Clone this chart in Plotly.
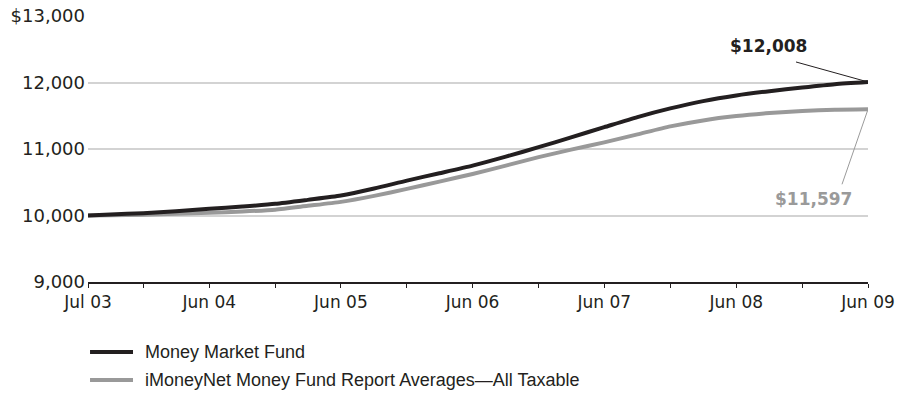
import plotly.graph_objects as go

# Quarter-end observation dates, Jul 2003 through Jun 2009
dates = [
    "2003-07-01", "2003-09-01", "2003-12-01", "2004-03-01", "2004-06-01",
    "2004-09-01", "2004-12-01", "2005-03-01", "2005-06-01", "2005-09-01",
    "2005-12-01", "2006-03-01", "2006-06-01", "2006-09-01", "2006-12-01",
    "2007-03-01", "2007-06-01", "2007-09-01", "2007-12-01", "2008-03-01",
    "2008-06-01", "2008-09-01", "2008-12-01", "2009-03-01", "2009-06-01",
]

# Growth of a $10,000 investment
money_market_fund = [
    10000, 10015, 10035, 10065, 10100,
    10135, 10175, 10235, 10300, 10405,
    10525, 10635, 10750, 10885, 11027,
    11175, 11328, 11480, 11610, 11720,
    11805, 11870, 11925, 11975, 12008,
]
imoneynet_average = [
    10000, 10005, 10012, 10025, 10040,
    10060, 10088, 10145, 10205, 10295,
    10400, 10510, 10625, 10750, 10877,
    10990, 11100, 11220, 11340, 11430,
    11495, 11540, 11570, 11590, 11597,
]

series_names = [
    "Money Market Fund",
    "iMoneyNet Money Fund Report Averages\u2014All Taxable",
]

x_tick_vals = [
    "2003-07-01", "2003-12-01", "2004-06-01", "2004-12-01", "2005-06-01",
    "2005-12-01", "2006-06-01", "2006-12-01", "2007-06-01", "2007-12-01",
    "2008-06-01", "2008-12-01", "2009-06-01",
]
x_tick_text = [
    "Jul 03", "", "Jun 04", "", "Jun 05", "", "Jun 06", "", "Jun 07", "",
    "Jun 08", "", "Jun 09",
]
y_tick_vals = [9000, 10000, 11000, 12000, 13000]
y_tick_text = ["9,000", "10,000", "11,000", "12,000", "$13,000"]

DARK = "#231f20"
GRAY = "#999999"
colors = [DARK, GRAY]

fig = go.Figure()
for values, name, color in [
    (imoneynet_average, series_names[1], GRAY),
    (money_market_fund, series_names[0], DARK),
]:
    fig.add_trace(go.Scatter(
        x=dates, y=values, name=name, mode="lines",
        line=dict(color=color, width=4, shape="spline", smoothing=0.6),
        hoverinfo="skip", showlegend=False,
    ))

# End-value callouts with leader lines anchored at the last data point
last_date = dates[-1]
callouts = [
    (money_market_fund[-1], DARK, -100, 36, -72, 20),
    (imoneynet_average[-1], "#9a9a9a", -55, -90, -26, -75),
]
for value, color, xs, ys, lx, ly in callouts:
    fig.add_shape(
        type="line", xref="x", yref="y",
        xsizemode="pixel", ysizemode="pixel",
        xanchor=last_date, yanchor=value,
        x0=0, y0=0, x1=lx, y1=ly,
        line=dict(color=color, width=1),
    )
    fig.add_annotation(
        x=last_date, y=value, xref="x", yref="y",
        text=f"${value:,}", showarrow=False,
        xshift=xs, yshift=ys, xanchor="center", yanchor="middle",
        font=dict(family="DejaVu Sans", size=17, color=color, weight="bold"),
    )

# Legend drawn below the plot
legend_rows = [-0.2632, -0.3684]
for name, color, yy in zip(series_names, colors, legend_rows):
    fig.add_shape(
        type="line", xref="paper", yref="paper",
        x0=0.0026, x1=0.0577, y0=yy, y1=yy,
        line=dict(color=color, width=4),
    )
    fig.add_annotation(
        x=0.0705, y=yy, xref="paper", yref="paper",
        text=name, showarrow=False, xanchor="left", yanchor="middle",
        font=dict(family="Liberation Sans", size=18, color=DARK),
    )

fig.update_layout(
    width=899, height=393,
    margin=dict(l=88, r=31, t=16, b=111),
    paper_bgcolor="white", plot_bgcolor="white",
    showlegend=False,
)
fig.update_xaxes(
    type="date", range=["2003-07-01", "2009-06-01"], automargin=False,
    tickmode="array", tickvals=x_tick_vals, ticktext=x_tick_text,
    showgrid=False, zeroline=False,
    showline=True, linecolor=DARK, linewidth=2,
    ticks="outside", ticklen=4, tickwidth=1, tickcolor=DARK,
    tickfont=dict(family="DejaVu Sans", size=17, color=DARK),
)
fig.update_yaxes(
    range=[9000, 13000], automargin=False,
    tickmode="array", tickvals=y_tick_vals, ticktext=y_tick_text,
    showgrid=True, gridcolor="#d3d3d3", gridwidth=2, zeroline=False,
    showline=False, ticks="", ticklabelstandoff=2,
    tickfont=dict(family="DejaVu Sans", size=18, color=DARK),
)

fig.write_html("out.html")
